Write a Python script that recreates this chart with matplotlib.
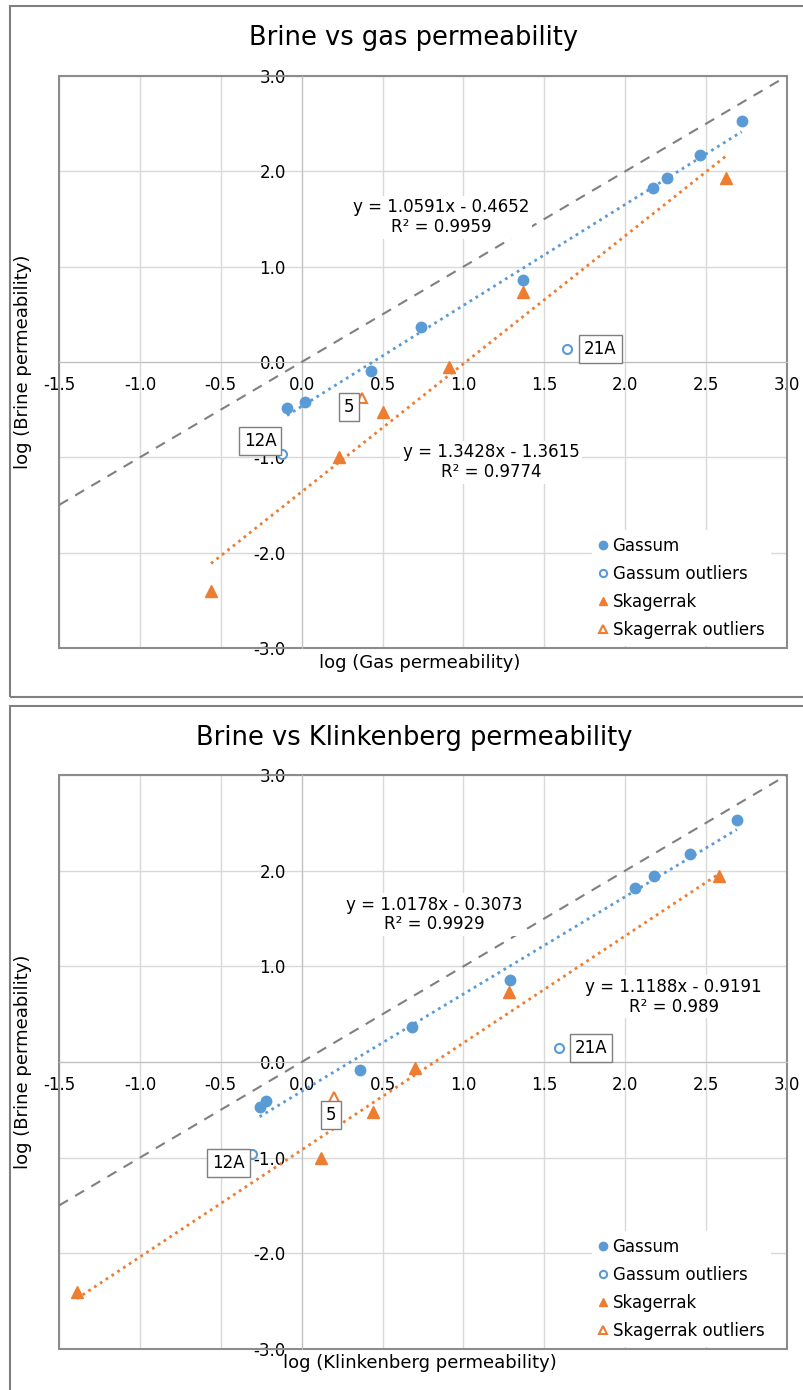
import numpy as np
import matplotlib
matplotlib.use("Agg")
import matplotlib.pyplot as plt
from matplotlib.patches import Rectangle
from matplotlib.ticker import FormatStrFormatter

plt.rcParams["font.family"] = ["DejaVu Sans"]

# axis ticks
x_ticks = [-1.5, -1.0, -0.5, 0.0, 0.5, 1.0, 1.5, 2.0, 2.5, 3.0]
y_ticks = [-3.0, -2.0, -1.0, 0.0, 1.0, 2.0, 3.0]

# brine vs gas permeability (log values)
gas_gassum_x = [-0.09, 0.02, 0.43, 0.74, 1.37, 2.17, 2.26, 2.46, 2.72]
gas_gassum_y = [-0.48, -0.42, -0.09, 0.37, 0.86, 1.82, 1.93, 2.17, 2.53]
gas_gassum_out_x = [1.64, -0.12]
gas_gassum_out_y = [0.14, -0.96]
gas_skag_x = [-0.56, 0.23, 0.50, 0.91, 1.37, 2.62]
gas_skag_y = [-2.40, -1.00, -0.52, -0.05, 0.73, 1.93]
gas_skag_out_x = [0.37]
gas_skag_out_y = [-0.38]
gas_fit_gassum = (1.0591, -0.4652, 0.9959)
gas_fit_skag = (1.3428, -1.3615, 0.9774)

# brine vs klinkenberg permeability (log values)
kl_gassum_x = [-0.26, -0.22, 0.36, 0.68, 1.29, 2.06, 2.18, 2.40, 2.69]
kl_gassum_y = [-0.47, -0.41, -0.08, 0.37, 0.86, 1.82, 1.94, 2.17, 2.53]
kl_gassum_out_x = [1.59, -0.31]
kl_gassum_out_y = [0.15, -0.96]
kl_skag_x = [-1.39, 0.12, 0.44, 0.70, 1.28, 2.58]
kl_skag_y = [-2.40, -1.00, -0.52, -0.06, 0.73, 1.94]
kl_skag_out_x = [0.20]
kl_skag_out_y = [-0.37]
kl_fit_gassum = (1.0178, -0.3073, 0.9929)
kl_fit_skag = (1.1188, -0.9191, 0.989)

outlier_labels_gassum = ["21A", "12A"]
outlier_labels_skag = ["5"]

BLUE = "#5B9BD5"
ORANGE = "#ED7D31"
GRID = "#D9D9D9"
BORDER = "#8C8C8C"


def eq_text(fit):
    a, b, r2 = fit
    sign = "-" if b < 0 else "+"
    return "y = %.4fx %s %.4f\nR² = %s" % (a, sign, abs(b), ("%.4f" % r2).rstrip("0"))


def draw_panel(ax, gx, gy, gox, goy, sx, sy, sox, soy, fit_g, fit_s,
               eq_g_pos, eq_s_pos, g_offsets, s_offsets):
    ax.set_xlim(-1.5, 3.0)
    ax.set_ylim(-3.0, 3.0)
    ax.set_xticks(x_ticks)
    ax.set_yticks(y_ticks)
    ax.xaxis.set_major_formatter(FormatStrFormatter("%.1f"))
    ax.yaxis.set_major_formatter(FormatStrFormatter("%.1f"))
    ax.tick_params(axis="both", length=0, labelsize=12)
    ax.tick_params(axis="x", pad=10)
    ax.tick_params(axis="y", pad=11.5)
    ax.grid(True, color=GRID, lw=1)
    ax.set_axisbelow(True)

    # axes cross at the origin, excel style
    for s in ["top", "right"]:
        ax.spines[s].set_visible(False)
    ax.spines["left"].set_position(("data", 0))
    ax.spines["bottom"].set_position(("data", 0))
    ax.spines["left"].set_color("#BFBFBF")
    ax.spines["bottom"].set_color("#BFBFBF")
    ax.add_patch(Rectangle((0, 0), 1, 1, transform=ax.transAxes, fill=False,
                           ec=BORDER, lw=1.5, clip_on=False, zorder=2))

    # 1:1 line
    ax.plot([-1.5, 3.0], [-1.5, 3.0], color="#808080", lw=1.5,
            ls=(0, (5, 4)), zorder=3)

    # trend lines
    xg = np.array([min(gx), max(gx)])
    ax.plot(xg, fit_g[0] * xg + fit_g[1], color=BLUE, lw=2, ls=(0, (1, 1.5)), zorder=3)
    xs = np.array([min(sx), max(sx)])
    ax.plot(xs, fit_s[0] * xs + fit_s[1], color=ORANGE, lw=2, ls=(0, (1, 1.5)), zorder=3)

    ax.plot(gx, gy, "o", color=BLUE, ms=7.5, label="Gassum", zorder=4)
    ax.plot(gox, goy, "o", mfc="white", mec=BLUE, mew=1.5, ms=6.5,
            label="Gassum outliers", zorder=4)
    ax.plot(sx, sy, "^", color=ORANGE, ms=8, label="Skagerrak", zorder=4)
    ax.plot(sox, soy, "^", mfc="white", mec=ORANGE, mew=1.5, ms=7,
            label="Skagerrak outliers", zorder=4)

    box = dict(boxstyle="square,pad=0.3", fc="white", ec="#7F7F7F", lw=1)
    for x, y, lab, off in zip(gox, goy, outlier_labels_gassum, g_offsets):
        ax.annotate(lab, (x, y), xytext=off, textcoords="offset points",
                    ha="center", va="center", fontsize=12, bbox=box, zorder=6)
    for x, y, lab, off in zip(sox, soy, outlier_labels_skag, s_offsets):
        ax.annotate(lab, (x, y), xytext=off, textcoords="offset points",
                    ha="center", va="center", fontsize=12, bbox=box, zorder=6)

    ax.text(eq_g_pos[0], eq_g_pos[1], eq_text(fit_g), ha="center", va="center",
            fontsize=12, linespacing=1.1, zorder=5,
            bbox=dict(fc="white", ec="none", pad=2))
    ax.text(eq_s_pos[0], eq_s_pos[1], eq_text(fit_s), ha="center", va="center",
            fontsize=12, linespacing=1.1, zorder=5,
            bbox=dict(fc="white", ec="none", pad=2))

    leg = ax.legend(loc="lower right", bbox_to_anchor=(0.978, 0.004),
                    borderaxespad=0, fontsize=12, frameon=True, fancybox=False,
                    edgecolor="none", framealpha=1, handlelength=0.6,
                    handletextpad=0.25, labelspacing=0.6, numpoints=1,
                    markerscale=0.8)
    leg.set_zorder(7)


fig = plt.figure(figsize=(8.04, 13.9), dpi=100)

# panel borders
fig.add_artist(Rectangle((10 / 804, 1 - 697 / 1390), 1.0, 691 / 1390,
                         transform=fig.transFigure, fill=False, ec="#808080", lw=1.5))
fig.add_artist(Rectangle((10 / 804, -0.1), 1.0, 1 - 706 / 1390 + 0.1,
                         transform=fig.transFigure, fill=False, ec="#808080", lw=1.5))

ax1 = fig.add_axes([59 / 804, 1 - 648 / 1390, 728 / 804, 572 / 1390])
draw_panel(ax1, gas_gassum_x, gas_gassum_y, gas_gassum_out_x, gas_gassum_out_y,
           gas_skag_x, gas_skag_y, gas_skag_out_x, gas_skag_out_y,
           gas_fit_gassum, gas_fit_skag, (0.86, 1.52), (1.17, -1.05),
           [(24, 0), (-16, 9)], [(-9, -6)])
ax1.set_xlabel("log (Gas permeability)", fontsize=13)
ax1.set_ylabel("log (Brine permeability)", fontsize=13)
ax1.xaxis.set_label_coords(0.496, -0.01)
ax1.yaxis.set_label_coords(-0.037, 0.5)
fig.text(414 / 804, 1 - 38 / 1390, "Brine vs gas permeability", fontsize=18.5,
         ha="center", va="center")

ax2 = fig.add_axes([59 / 804, 1 - 1349 / 1390, 728 / 804, 574 / 1390])
draw_panel(ax2, kl_gassum_x, kl_gassum_y, kl_gassum_out_x, kl_gassum_out_y,
           kl_skag_x, kl_skag_y, kl_skag_out_x, kl_skag_out_y,
           kl_fit_gassum, kl_fit_skag, (0.82, 1.54), (2.30, 0.68),
           [(23, 0), (-16.5, -6.5)], [(-2, -13)])
ax2.set_xlabel("log (Klinkenberg permeability)", fontsize=13)
ax2.set_ylabel("log (Brine permeability)", fontsize=13)
ax2.xaxis.set_label_coords(0.496, -0.008)
ax2.yaxis.set_label_coords(-0.037, 0.5)
fig.text(414 / 804, 1 - 738 / 1390, "Brine vs Klinkenberg permeability", fontsize=18.5,
         ha="center", va="center")

fig.savefig("out.png", dpi=100, facecolor="white")
